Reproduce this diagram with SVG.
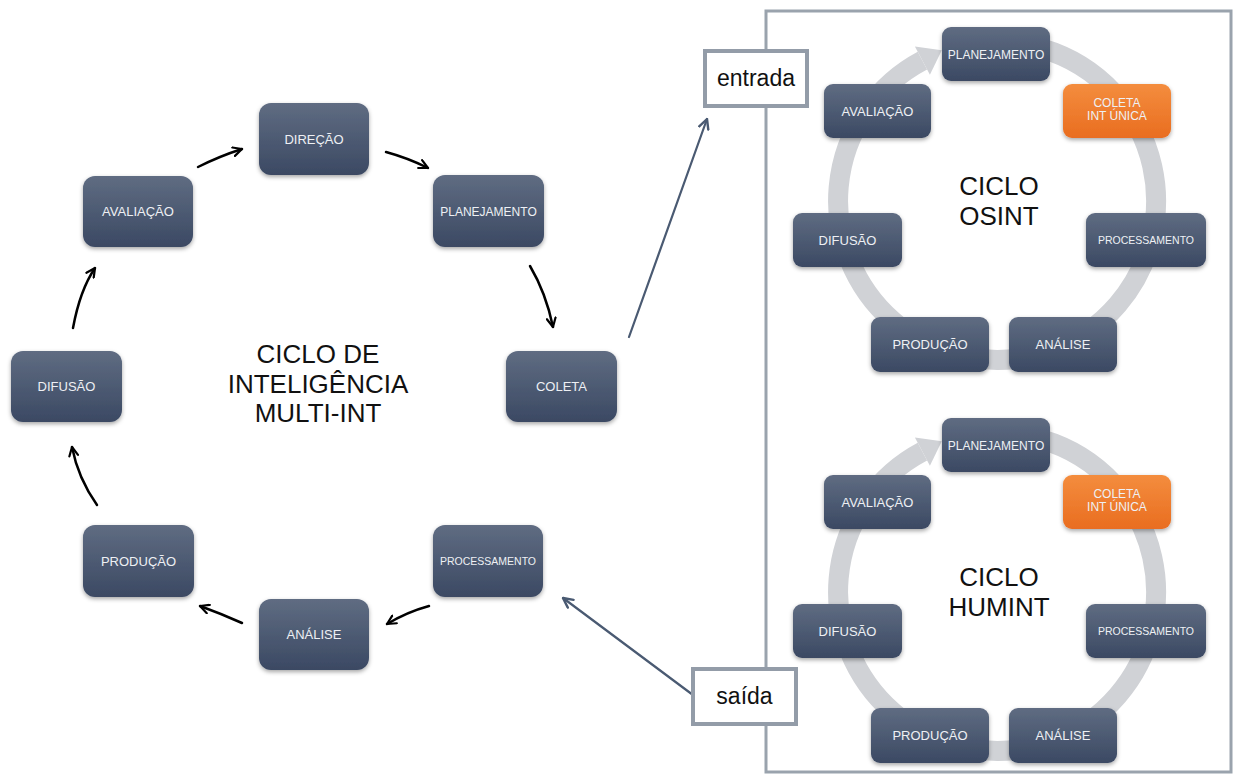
<svg xmlns="http://www.w3.org/2000/svg" width="1234" height="776" viewBox="0 0 1234 776">
  <defs>
    <linearGradient id="slate" x1="0" y1="0" x2="0" y2="1">
      <stop offset="0" stop-color="#5f6c82"/>
      <stop offset="1" stop-color="#3b4963"/>
    </linearGradient>
    <linearGradient id="orange" x1="0" y1="0" x2="0" y2="1">
      <stop offset="0" stop-color="#f48d3e"/>
      <stop offset="1" stop-color="#e96d20"/>
    </linearGradient>
    <filter id="shadow" x="-20%" y="-20%" width="140%" height="150%">
      <feDropShadow dx="0" dy="2" stdDeviation="2" flood-color="#000" flood-opacity="0.35"/>
    </filter>
    <marker id="chev" viewBox="0 0 10 10" refX="9" refY="5" markerWidth="11" markerHeight="11" markerUnits="userSpaceOnUse" orient="auto">
      <path d="M1,1 L9,5 L1,9" fill="none" stroke="#000" stroke-width="2" stroke-linecap="round" stroke-linejoin="round"/>
    </marker>
    <marker id="chevBlue" viewBox="0 0 10 10" refX="9" refY="5" markerWidth="12" markerHeight="12" markerUnits="userSpaceOnUse" orient="auto">
      <path d="M1,1 L9,5 L1,9" fill="none" stroke="#4a5a72" stroke-width="2" stroke-linecap="round" stroke-linejoin="round"/>
    </marker>
  </defs>
  <style>
    .box { fill: url(#slate); filter: url(#shadow); }
    .hot { fill: url(#orange); filter: url(#shadow); }
    .lbl { font-family: "Liberation Sans", Arial, sans-serif; fill: #eef0f4; text-anchor: middle; font-size: 13px; }
    .s12 { font-size: 12px; }
    .s105 { font-size: 10.5px; }
    .title { font-family: "Liberation Sans", Arial, sans-serif; fill: #111; text-anchor: middle; font-size: 26px; }
    .io { font-family: "Liberation Sans", Arial, sans-serif; fill: #111; text-anchor: middle; font-size: 23px; }
    .iobox { fill: #fff; stroke: #939ca8; stroke-width: 4; }
    .flow { fill: none; stroke: #000; stroke-width: 2.5; stroke-linecap: round; marker-end: url(#chev); }
    .link { fill: none; stroke: #4a5a72; stroke-width: 2.2; stroke-linecap: round; marker-end: url(#chevBlue); }
    .ring { fill: none; stroke: #d0d2d6; stroke-width: 20; }
    .ringHead { fill: #d0d2d6; }
  </style>

  <rect width="1234" height="776" fill="#fff"/>

  <!-- right-hand panel holding the single-INT cycles -->
  <rect id="panel" x="766" y="11" width="465" height="761" fill="none" stroke="#9aa3ad" stroke-width="3"/>

  <!-- multi-INT cycle title -->
  <text class="title" x="318" y="363">CICLO DE</text>
  <text class="title" x="318" y="393">INTELIGÊNCIA</text>
  <text class="title" x="318" y="422">MULTI-INT</text>

  <!-- connectors -->
  <g id="connectors">
    <path class="flow" d="M73,328 Q80,290 95,268"/>
    <path class="flow" d="M198,167 Q220,156 242,149"/>
    <path class="flow" d="M386,152 Q408,158 428,168"/>
    <path class="flow" d="M530,266 Q546,293 553,327"/>
    <path class="flow" d="M429,606 Q407,612 387,624"/>
    <path class="flow" d="M242,623 Q222,614 200,606"/>
    <path class="flow" d="M97,505 Q78,478 72,447"/>
    <path class="link" d="M629,337 L707,119"/>
    <path class="link" d="M693,695 L563,598"/>
  </g>

  <!-- multi-INT cycle nodes -->
  <g id="m-direcao"><rect class="box" x="259" y="103" width="110" height="72" rx="12"/><text class="lbl" x="314" y="143.5">DIREÇÃO</text></g>
  <g id="m-planejamento"><rect class="box" x="433" y="175" width="111" height="72" rx="12"/><text class="lbl s12" x="488.5" y="215.5">PLANEJAMENTO</text></g>
  <g id="m-coleta"><rect class="box" x="506" y="351" width="111" height="71" rx="12"/><text class="lbl" x="561.5" y="391">COLETA</text></g>
  <g id="m-processamento"><rect class="box" x="433" y="525" width="110" height="72" rx="12"/><text class="lbl s105" x="488" y="565">PROCESSAMENTO</text></g>
  <g id="m-analise"><rect class="box" x="259" y="599" width="110" height="71" rx="12"/><text class="lbl" x="314" y="639">ANÁLISE</text></g>
  <g id="m-producao"><rect class="box" x="83" y="525" width="111" height="72" rx="12"/><text class="lbl" x="138.5" y="565.5">PRODUÇÃO</text></g>
  <g id="m-difusao"><rect class="box" x="11" y="351" width="111" height="71" rx="12"/><text class="lbl" x="66.5" y="391">DIFUSÃO</text></g>
  <g id="m-avaliacao"><rect class="box" x="83" y="176" width="110" height="71" rx="12"/><text class="lbl" x="138" y="216">AVALIAÇÃO</text></g>

  <!-- input / output tags on the panel edge -->
  <g id="entrada"><rect class="iobox" x="705" y="51" width="102" height="55"/><text class="io" x="756" y="86">entrada</text></g>
  <g id="saida"><rect class="iobox" x="693" y="669" width="103" height="55"/><text class="io" x="744.5" y="704">saída</text></g>

  <!-- OSINT cycle -->
  <g id="osint-ring">
    <path class="ring" d="M969.4,44.4 A159,159 0 1 1 922.4,60.6"/>
    <polygon class="ringHead" points="914.9,46.5 929.9,74.7 941.8,50.3"/>
  </g>
  <text class="title" x="999" y="195">CICLO</text>
  <text class="title" x="999" y="225">OSINT</text>
  <g id="o-planejamento"><rect class="box" x="942" y="27" width="108" height="54" rx="9"/><text class="lbl s12" x="996" y="58.5">PLANEJAMENTO</text></g>
  <g id="o-coleta"><rect class="hot" x="1063" y="84" width="108" height="54" rx="9"/><text class="lbl s12" x="1117" y="107">COLETA</text><text class="lbl s12" x="1117" y="120">INT ÚNICA</text></g>
  <g id="o-processamento"><rect class="box" x="1086" y="213" width="120" height="54" rx="9"/><text class="lbl s105" x="1146" y="244">PROCESSAMENTO</text></g>
  <g id="o-analise"><rect class="box" x="1009" y="317" width="108" height="55" rx="9"/><text class="lbl" x="1063" y="349">ANÁLISE</text></g>
  <g id="o-producao"><rect class="box" x="871" y="317" width="118" height="55" rx="9"/><text class="lbl" x="930" y="349">PRODUÇÃO</text></g>
  <g id="o-difusao"><rect class="box" x="793" y="213" width="109" height="54" rx="9"/><text class="lbl" x="847.5" y="244.5">DIFUSÃO</text></g>
  <g id="o-avaliacao"><rect class="box" x="824" y="84" width="107" height="54" rx="9"/><text class="lbl" x="877.5" y="115.5">AVALIAÇÃO</text></g>

  <!-- HUMINT cycle -->
  <g id="humint-ring">
    <path class="ring" d="M969.4,435.4 A159,159 0 1 1 922.4,451.6"/>
    <polygon class="ringHead" points="914.9,437.5 929.9,465.7 941.8,441.3"/>
  </g>
  <text class="title" x="999" y="586">CICLO</text>
  <text class="title" x="999" y="616">HUMINT</text>
  <g id="h-planejamento"><rect class="box" x="942" y="418" width="108" height="54" rx="9"/><text class="lbl s12" x="996" y="449.5">PLANEJAMENTO</text></g>
  <g id="h-coleta"><rect class="hot" x="1063" y="475" width="108" height="54" rx="9"/><text class="lbl s12" x="1117" y="498">COLETA</text><text class="lbl s12" x="1117" y="511">INT ÚNICA</text></g>
  <g id="h-processamento"><rect class="box" x="1086" y="604" width="120" height="54" rx="9"/><text class="lbl s105" x="1146" y="635">PROCESSAMENTO</text></g>
  <g id="h-analise"><rect class="box" x="1009" y="708" width="108" height="55" rx="9"/><text class="lbl" x="1063" y="740">ANÁLISE</text></g>
  <g id="h-producao"><rect class="box" x="871" y="708" width="118" height="55" rx="9"/><text class="lbl" x="930" y="740">PRODUÇÃO</text></g>
  <g id="h-difusao"><rect class="box" x="793" y="604" width="109" height="54" rx="9"/><text class="lbl" x="847.5" y="635.5">DIFUSÃO</text></g>
  <g id="h-avaliacao"><rect class="box" x="824" y="475" width="107" height="54" rx="9"/><text class="lbl" x="877.5" y="506.5">AVALIAÇÃO</text></g>
</svg>
